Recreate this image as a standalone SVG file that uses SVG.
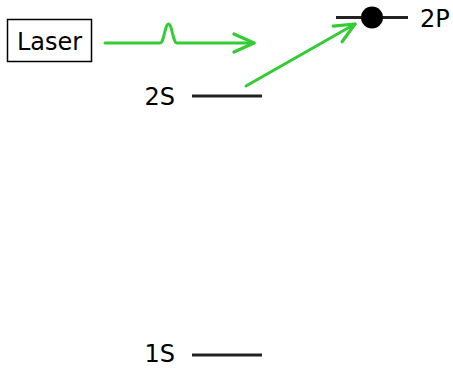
<svg xmlns="http://www.w3.org/2000/svg" width="453" height="368" viewBox="0 0 453 368">
<defs>
<style>
text{font-family:"DejaVu Sans",sans-serif;font-size:24px;fill:#000}
.lvl{stroke:#222;stroke-width:3;fill:none}
.g{stroke:#33cc33;stroke-width:3;fill:none;stroke-linecap:round;stroke-linejoin:round}
</style>
<marker id="ah" markerWidth="26" markerHeight="24" viewBox="-24 -12 26 24" refX="0" refY="0" orient="auto" markerUnits="userSpaceOnUse">
<path d="M-20,-9 L0,0 L-20,9" fill="none" stroke="#33cc33" stroke-width="3.2" stroke-linecap="round" stroke-linejoin="round"/>
</marker>
</defs>
<rect width="453" height="368" fill="#fff"/>
<g id="laser">
<rect x="7.5" y="19.5" width="84" height="42" fill="#fff" stroke="#000" stroke-width="1.5"/>
<text x="49.5" y="49.5" text-anchor="middle">Laser</text>
</g>
<g id="level2S">
<line class="lvl" x1="192" y1="96" x2="262" y2="96"/>
<text x="175" y="105" text-anchor="end">2S</text>
</g>
<g id="level1S">
<line class="lvl" x1="192" y1="355" x2="262" y2="355"/>
<text x="175" y="362" text-anchor="end">1S</text>
</g>
<g id="level2P">
<line class="lvl" x1="336" y1="17.5" x2="408" y2="17.5"/>
<circle cx="372" cy="17.5" r="11" fill="#000"/>
<text x="420" y="27">2P</text>
</g>
<g id="connectors">
<path class="g" d="M105,43 L160,43 C164,43 165,24 168.5,24 C172,24 173,43 177,43 L254,43" marker-end="url(#ah)"/>
<path class="g" d="M246,86 L355,24" marker-end="url(#ah)"/>
</g>
</svg>
